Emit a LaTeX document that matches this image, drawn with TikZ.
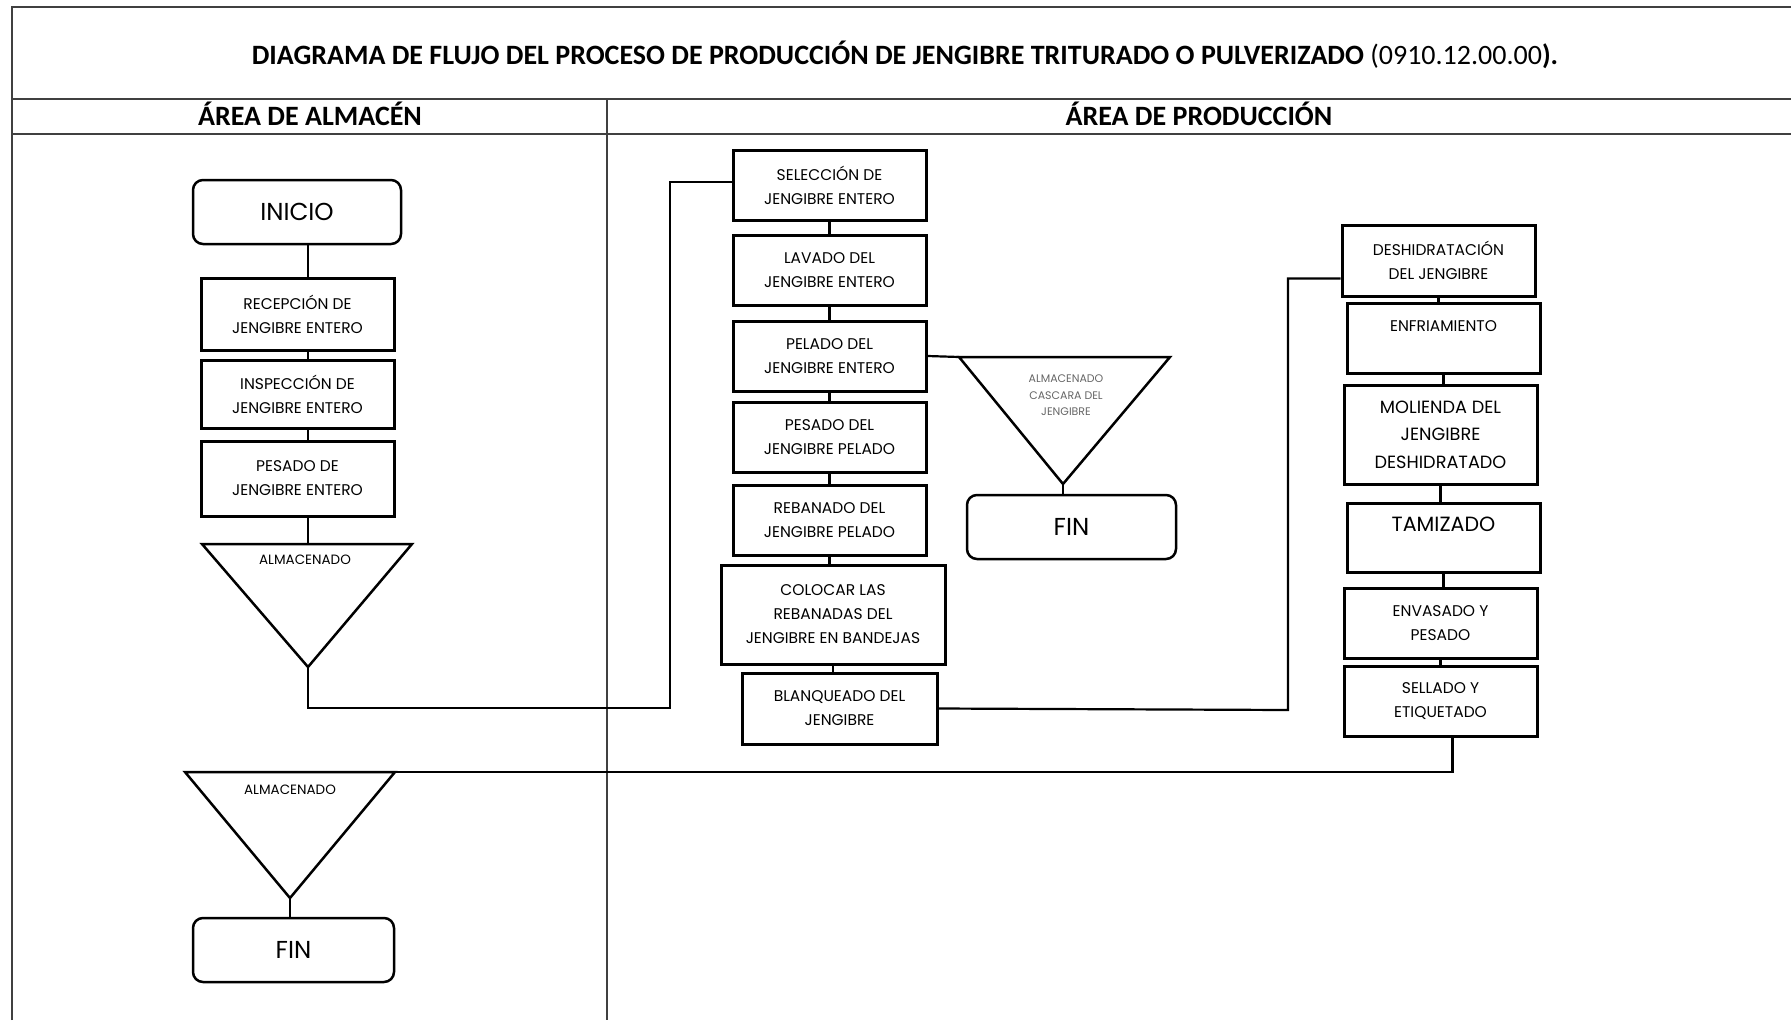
\documentclass[tikz,border=0pt]{standalone}
\usepackage{fontspec}
\setmainfont{Carlito}
\newfontfamily\gothic{Poppins}
\usetikzlibrary{calc}

\tikzset{
  tabline/.style={draw=black!75, line width=2pt},
  head/.style={font=\bfseries\fontsize{28}{32}\selectfont, inner sep=0pt},
  proc/.style={draw, line width=3pt, rectangle, align=center, inner sep=2pt,
    minimum width=193pt, minimum height=70pt, font=\gothic\fontsize{15.5}{24}\selectfont},
  term/.style={draw, line width=2.5pt, rounded corners=10pt, align=center,
    minimum width=204pt, minimum height=64pt, font=\gothic\fontsize{24.5}{28}\selectfont},
  tri/.style={draw, line width=2.5pt, line join=miter},
  tritxt/.style={font=\gothic\fontsize{13.5}{16}\selectfont, inner sep=0pt, align=center},
  conn/.style={draw, line width=2.2pt},
}

\begin{document}
\begin{tikzpicture}[x=1pt,y=-1pt]
\useasboundingbox (0,0) rectangle (1791,1020);
% cuadro
\draw[tabline] (12,1020) -- (12,7) -- (1791,7);
\draw[tabline] (12,99) -- (1791,99);
\draw[tabline] (12,134) -- (1791,134);
\draw[tabline] (607,99) -- (607,1020);
\node at (905,55) [head, font=\fontsize{28}{32}\selectfont] (titulo) {\textbf{DIAGRAMA DE FLUJO DEL PROCESO DE PRODUCCIÓN DE JENGIBRE TRITURADO O PULVERIZADO }(0910.12.00.00\textbf{).}};
\node at (310,114) [head] (almacen) {ÁREA DE ALMACÉN};
\node at (1199,114) [head] (produccion) {ÁREA DE PRODUCCIÓN};

% area de almacen
\node at (297,212) [term, minimum width=208pt] (ini) {INICIO};
\node at (297.5,314) [proc, minimum height=72pt] (rec) {RECEPCIÓN DE\\JENGIBRE ENTERO};
\node at (297.5,394) [proc, minimum height=68pt] (ins) {INSPECCIÓN DE\\JENGIBRE ENTERO};
\node at (297.5,478.5) [proc, minimum height=75pt] (pesE) {PESADO DE\\JENGIBRE ENTERO};
\draw[tri] (202,544) coordinate (t1l) -- (412,544) coordinate (t1r) -- (308,667) coordinate (t1b) -- cycle;
\node at (305,560) [tritxt] (alm1) {ALMACENADO};
\draw[tri] (185,772) coordinate (t3l) -- (395,772) coordinate (t3r) -- (290,898) coordinate (t3b) -- cycle;
\node at (290,790) [tritxt] (alm3) {ALMACENADO};
\node at (293.5,950) [term, minimum width=201pt] (fin1) {FIN};

% area de produccion
\node at (829.5,185) [proc] (sel) {SELECCIÓN DE\\JENGIBRE ENTERO};
\node at (829.5,270) [proc] (lav) {LAVADO DEL\\JENGIBRE ENTERO};
\node at (829.5,356) [proc] (pel) {PELADO DEL\\JENGIBRE ENTERO};
\node at (829.5,437) [proc] (pesP) {PESADO DEL\\JENGIBRE PELADO};
\node at (829.5,520) [proc] (reb) {REBANADO DEL\\JENGIBRE PELADO};
\node at (833,614.5) [proc, minimum width=224pt, minimum height=99pt] (col) {COLOCAR LAS\\REBANADAS DEL\\JENGIBRE EN BANDEJAS};
\node at (839.5,708.5) [proc, minimum width=195pt, minimum height=71pt] (bla) {BLANQUEADO DEL\\JENGIBRE};
\draw[tri] (959,357) coordinate (t2l) -- (1170,357) coordinate (t2r) -- (1063,484) coordinate (t2b) -- cycle;
\node at (1066,395.5) [tritxt, text=black!60, font=\gothic\fontsize{11}{16.5}\selectfont] (alm2) {ALMACENADO\\CASCARA DEL\\JENGIBRE};
\node at (1071.5,527) [term, minimum width=209pt] (fin2) {FIN};

\node at (1438.5,260.5) [proc, minimum height=71pt] (des) {DESHIDRATACIÓN\\DEL JENGIBRE};
\node at (1443.5,338) [proc] (enf) {ENFRIAMIENTO\\\mbox{}};
\node at (1440.5,434.5) [proc, minimum height=99pt, font=\gothic\fontsize{17.7}{27.5}\selectfont] (mol) {MOLIENDA DEL\\JENGIBRE\\DESHIDRATADO};
\node at (1443.5,537.5) [proc, minimum height=69pt, font=\gothic\fontsize{20.6}{26}\selectfont] (tam) {TAMIZADO\\\mbox{}};
\node at (1440.5,623) [proc] (env) {ENVASADO Y\\PESADO};
\node at (1440.5,701) [proc] (sell) {SELLADO Y\\ETIQUETADO};

% conectores
\coordinate (bendA) at (670,708);
\coordinate (bendB) at (1288,710);
\draw[conn] (ini.south -| t1b) -- (rec.north -| t1b);
\draw[conn] (rec.south -| t1b) -- (ins.north -| t1b);
\draw[conn] (ins.south -| t1b) -- (pesE.north -| t1b);
\draw[conn] (pesE.south -| t1b) -- (t1b |- t1l);
\draw[conn] (t1b) |- (bendA) |- ([yshift=3pt]sel.west);
\draw[conn] (sel.south) -- (lav.north);
\draw[conn] (lav.south) -- (pel.north);
\draw[conn] (pel.south) -- (pesP.north);
\draw[conn] (pesP.south) -- (reb.north);
\draw[conn] (reb.south) -- (reb.south |- col.north);
\draw[conn] (col.south) -- (col.south |- bla.north);
\draw[conn] (pel.east) -- (t2l);
\draw[conn] (t2b) -- (t2b |- fin2.north);
\draw[conn] (bla.east) -- (bendB) |- ([yshift=-18pt]des.west);
\draw[conn] (des.south) -- (des.south |- enf.north);
\draw[conn] (enf.south) -- (enf.south |- mol.north);
\draw[conn] (mol.south) -- (mol.south |- tam.north);
\draw[conn] (tam.south) -- (tam.south |- env.north);
\draw[conn] (env.south) -- (env.south |- sell.north);
\draw[conn] ([xshift=12pt]sell.south) |- (t3r);
\draw[conn] (t3b) -- (t3b |- fin1.north);
\end{tikzpicture}
\end{document}
